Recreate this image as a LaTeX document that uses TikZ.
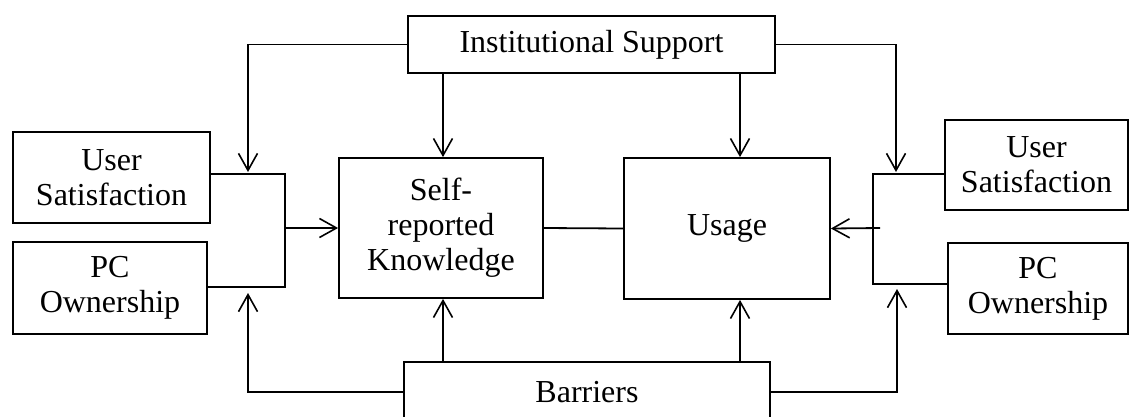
\documentclass[tikz,border=0pt]{standalone}
\usepackage{fontspec}
\setmainfont{Liberation Serif}
\usetikzlibrary{arrows.meta}
\begin{document}
\begin{tikzpicture}[x=1pt,y=-1pt,
  box/.style={draw, line width=1.8pt, align=center, inner sep=0pt,
    font=\fontsize{32}{35}\selectfont},
  con/.style={line width=1.8pt},
  arr/.style={con, -{Straight Barb[length=17pt,width=19pt,line width=1.6pt]}}]
\useasboundingbox (0,0) rectangle (1130,416);
\clip (0,0) rectangle (1130,416);
\fill[white] (0,0) rectangle (1130,416);
% boxes
\node[box, minimum width=367, minimum height=57] (inst) at (591.5,44.5) {Institutional Support};
\node[box, minimum width=197, minimum height=91] (usL) at (111.5,177.5) {User\\Satisfaction};
\node[box, minimum width=194, minimum height=92] (pcL) at (110,288) {PC\\Ownership};
\node[box, minimum width=204, minimum height=140] (self) at (441,228) {Self-\\reported\\Knowledge};
\node[box, minimum width=206, minimum height=141] (usage) at (727,228.5) {Usage};
\node[box, minimum width=183, minimum height=90] (usR) at (1036.5,165) {User\\Satisfaction};
\node[box, minimum width=180, minimum height=91] (pcR) at (1038,288.5) {PC\\Ownership};
\node[box, minimum width=366, minimum height=60] (bar) at (587,392) {Barriers};
% helper coordinates
\coordinate (lx) at (248,172);
\coordinate (lx2) at (248,293);
\coordinate (lbTop) at (285,174);
\coordinate (lbBot) at (285,287);
\coordinate (sx) at (443,0);
\coordinate (ux) at (740,0);
\coordinate (rx) at (896,172);
\coordinate (rx2) at (897,289);
\coordinate (rbTop) at (873,174);
\coordinate (rbBot) at (873,284);
\coordinate (rs) at (880,228);
% left side
\draw[arr] (inst.west) -| (lx);
\draw[con] (usL.east |- lbTop) -- (lbTop) -- (lbBot) -- (pcL.east |- lbBot);
\draw[arr] (lbTop |- self.west) -- (self.west);
\draw[arr] (bar.west) -| (lx2);
% centre
\draw[arr] (inst.south -| sx) -- (self.north -| sx);
\draw[arr] (inst.south -| ux) -- (usage.north -| ux);
\draw[arr] (bar.north -| sx) -- (self.south -| sx);
\draw[arr] (bar.north -| ux) -- (usage.south -| ux);
\draw[con] (self.east) -- (usage.west);
% right side
\draw[arr] (inst.east) -| (rx);
\draw[con] (usR.west |- rbTop) -- (rbTop) -- (rbBot) -- (pcR.west |- rbBot);
\draw[arr] (rs) -- (usage.east);
\draw[arr] (bar.east) -| (rx2);
\end{tikzpicture}
\end{document}
